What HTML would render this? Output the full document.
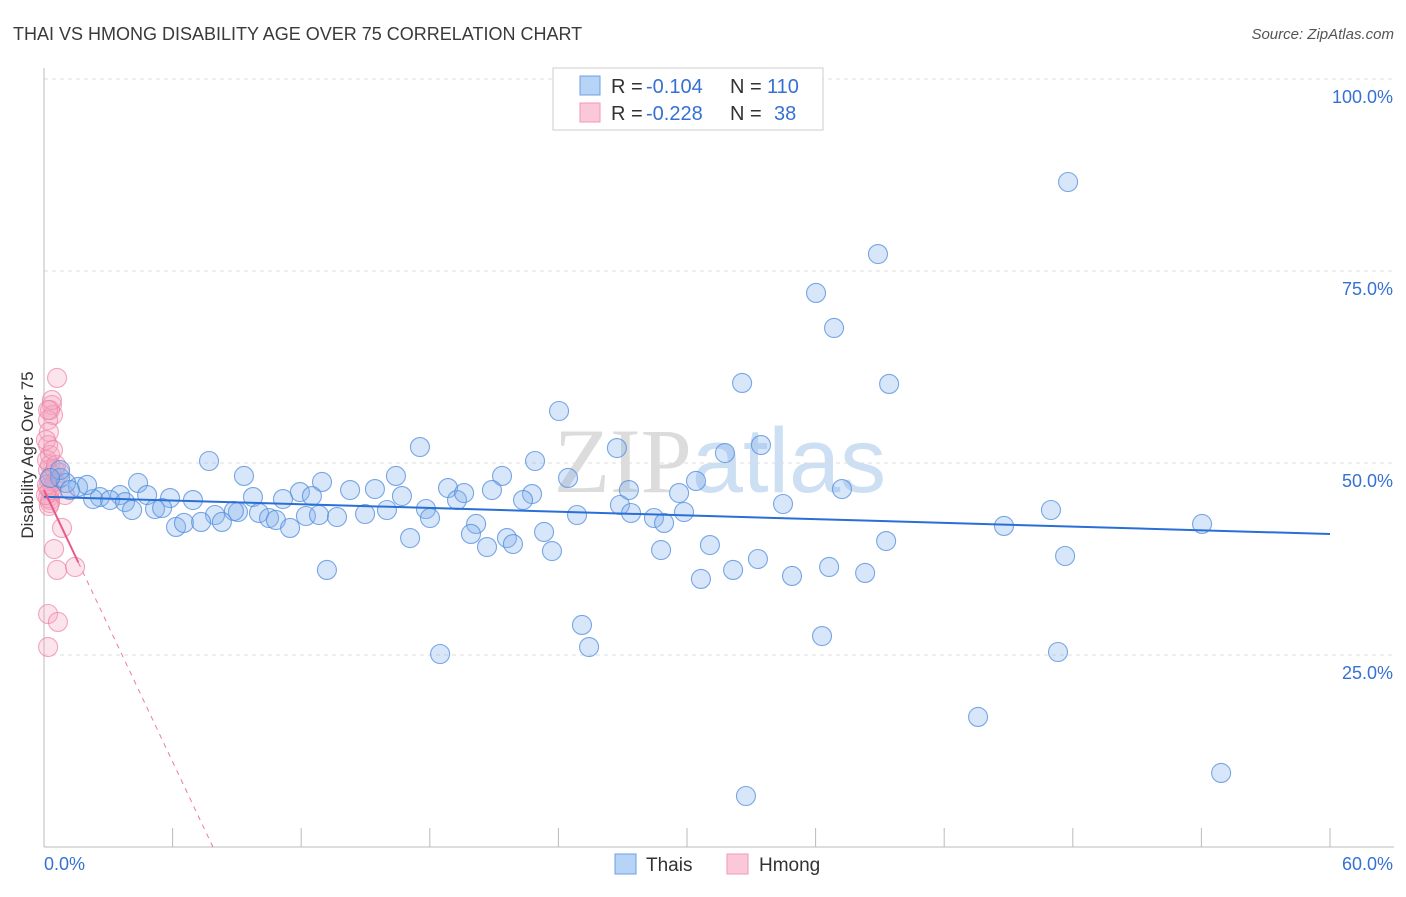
<!DOCTYPE html>
<html><head><meta charset="utf-8"><style>
body{margin:0;background:#fff;font-family:"Liberation Sans",sans-serif;}
</style></head><body>
<svg id="chart" width="1406" height="892" viewBox="0 0 1406 892" xmlns="http://www.w3.org/2000/svg">
<text x="13" y="40" font-size="18" fill="#3a3a3a">THAI VS HMONG DISABILITY AGE OVER 75 CORRELATION CHART</text>
<text x="1394" y="39" font-size="15" fill="#555" font-style="italic" text-anchor="end">Source: ZipAtlas.com</text>
<text x="720" y="492" font-size="92" fill="#dcdcdc" text-anchor="middle" font-family="Liberation Serif,serif">ZIP<tspan fill="#cddff3" font-family="Liberation Sans,sans-serif">atlas</tspan></text>
<g id="grid"></g>
<g id="axes"></g>
<g id="pts"></g>
<g id="trends"></g>
<text transform="translate(33,455) rotate(-90)" font-size="17" fill="#333" text-anchor="middle">Disability Age Over 75</text>
<g>
<rect x="553" y="68" width="270" height="62" fill="#fff" stroke="#ccc"/>
<rect x="580" y="76" width="20" height="19" fill="#b7d3f5" stroke="#6aa2e6"/>
<rect x="580" y="103" width="20" height="19" fill="#fac8d8" stroke="#ee9ab6"/>
<text y="93" font-size="20" fill="#333"><tspan x="611">R =</tspan><tspan x="646" fill="#3571d4">-0.104</tspan><tspan x="730">N =</tspan><tspan x="767" fill="#3571d4">110</tspan></text>
<text y="120" font-size="20" fill="#333"><tspan x="611">R =</tspan><tspan x="646" fill="#3571d4">-0.228</tspan><tspan x="730">N =</tspan><tspan x="774" fill="#3571d4">38</tspan></text>
</g>
<g>
<rect x="615" y="854" width="21" height="20" fill="#b7d3f5" stroke="#6aa2e6"/>
<text x="646" y="871" font-size="19" fill="#333">Thais</text>
<rect x="727" y="854" width="21" height="20" fill="#fac8d8" stroke="#ee9ab6"/>
<text x="759" y="871" font-size="19" fill="#333">Hmong</text>
</g>
</svg>
<script>
const yTicks=[25,50,75,100];
const yTickLabels=["25.0%","50.0%","75.0%","100.0%"];
const xTicks=[0,6,12,18,24,30,36,42,48,54,60];
const xTickLabels=["0.0%","60.0%"];
const thaiPx=[[1068,182],[878,254],[816,293],[834,328],[742,383],[889,384],[559,411],[420,447],[617,448],[761,445],[725,453],[535,461],[209,461],[244,476],[396,476],[502,476],[568,478],[138,483],[322,482],[350,490],[448,488],[492,490],[629,490],[679,493],[696,481],[842,489],[300,492],[147,495],[312,496],[375,489],[402,496],[457,500],[464,493],[532,494],[523,500],[253,497],[283,499],[193,500],[170,498],[120,495],[100,497],[93,499],[110,500],[78,487],[60,478],[66,483],[87,485],[125,502],[132,510],[155,509],[162,508],[215,515],[238,512],[234,511],[259,513],[269,518],[276,520],[306,516],[319,515],[337,517],[365,514],[387,510],[426,509],[430,518],[577,515],[620,505],[631,513],[654,518],[664,523],[684,512],[783,504],[1051,510],[1004,526],[1202,524],[176,527],[184,523],[201,522],[222,522],[290,528],[476,524],[471,534],[410,538],[507,538],[513,544],[487,547],[544,532],[552,551],[661,550],[710,545],[886,541],[758,559],[829,567],[865,573],[792,576],[701,579],[733,570],[1065,556],[327,570],[582,625],[589,647],[822,636],[440,654],[1058,652],[978,717],[1221,773],[746,796],[60,470],[50,478],[70,490]];
const hmongPx=[[57,378],[52,405],[50,410],[53,415],[48,420],[49,432],[48,445],[50,455],[50,465],[48,470],[52,475],[49,480],[55,482],[48,488],[52,492],[65,495],[48,498],[50,500],[50,503],[49,506],[62,528],[54,549],[57,570],[75,567],[48,614],[58,622],[48,647],[55,470],[60,473],[50,490],[47,460],[56,465],[47,485],[52,400],[46,440],[46,495],[48,410],[53,450]];
const thaiX=thaiPx.map(p=>+((p[0]-44)/21.433).toFixed(2));
const thaiY=thaiPx.map(p=>+((847-p[1])/7.68).toFixed(2));
const hmongX=hmongPx.map(p=>+((p[0]-44)/21.433).toFixed(2));
const hmongY=hmongPx.map(p=>+((847-p[1])/7.68).toFixed(2));
const thaiTrend=[45.6,40.75];
const hmongTrend=[46.5,-5.9];
const X0=44,X1=1330,Y0=847,Y100=79;
const sx=v=>X0+(X1-X0)*v/60;
const sy=v=>Y0-(Y0-Y100)*v/100;
const NS="http://www.w3.org/2000/svg";
function mk(tag,attrs,parent){const e=document.createElementNS(NS,tag);for(const k in attrs)e.setAttribute(k,attrs[k]);document.getElementById(parent).appendChild(e);return e;}
yTicks.forEach((t,i)=>{
 const l=mk('line',{x1:X0,x2:1394,y1:sy(t),y2:sy(t),stroke:'#ddd','stroke-dasharray':'4,4'},'grid');
 
 
 const tx=mk('text',{x:1393,y:sy(t)+24,'font-size':18,fill:'#3571d4','text-anchor':'end'},'grid');
 tx.textContent=yTickLabels[i];
 
 
});
const ax=mk('line',{x1:X0,x2:X0,y1:68,y2:Y0,stroke:'#bbb'},'axes');


const bx=mk('line',{x1:X0,x2:1394,y1:Y0,y2:Y0,stroke:'#bbb'},'axes');


xTicks.forEach(t=>{const l=mk('line',{x1:sx(t),x2:sx(t),y1:828,y2:Y0,stroke:'#bbb'},'axes');
 
 });
const xl0=mk('text',{x:44,y:870,'font-size':18,fill:'#3571d4'},'axes');xl0.textContent=xTickLabels[0];


const xl1=mk('text',{x:1393,y:870,'font-size':18,fill:'#3571d4','text-anchor':'end'},'axes');xl1.textContent=xTickLabels[1];


hmongX.forEach((x,i)=>{const c=mk('circle',{cx:sx(x),cy:sy(hmongY[i]),r:9.5,fill:'rgba(244,165,192,0.3)',stroke:'rgba(236,130,166,0.7)','stroke-width':1.1},'pts');
 
 });
thaiX.forEach((x,i)=>{const c=mk('circle',{cx:sx(x),cy:sy(thaiY[i]),r:9.5,fill:'rgba(130,178,235,0.32)',stroke:'rgba(80,140,222,0.75)','stroke-width':1.1},'pts');
 
 });
const tl=mk('line',{x1:sx(0),y1:sy(thaiTrend[0]),x2:sx(60),y2:sy(thaiTrend[1]),stroke:'#2a6fd6','stroke-width':2},'trends');


const xe=-hmongTrend[0]/hmongTrend[1];
const hd=mk('line',{x1:sx(1.6),y1:sy(hmongTrend[0]+hmongTrend[1]*1.6),x2:sx(xe),y2:sy(0),stroke:'#ec7aa0','stroke-width':1,'stroke-dasharray':'5,5'},'trends');


const hl=mk('line',{x1:sx(0),y1:sy(hmongTrend[0]),x2:sx(1.6),y2:sy(hmongTrend[0]+hmongTrend[1]*1.6),stroke:'#e8588a','stroke-width':2},'trends');


</script>
</body></html>
